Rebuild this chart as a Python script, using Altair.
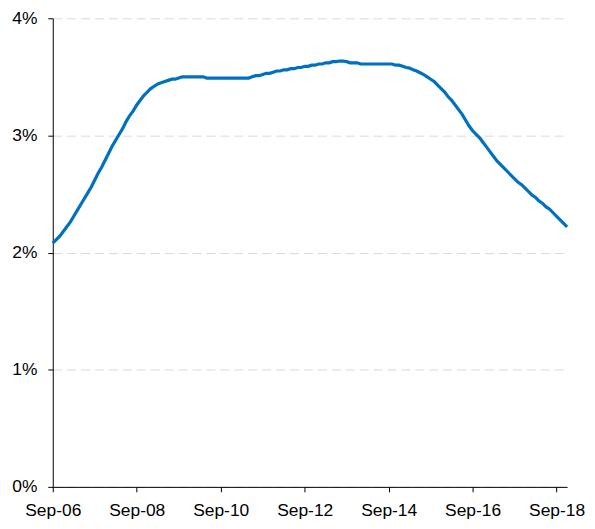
import altair as alt
import pandas as pd

values = [
    2.08, 2.11, 2.14, 2.18, 2.22, 2.26, 2.31, 2.36, 2.41, 2.46, 2.51, 2.56,
    2.62, 2.68, 2.73, 2.79, 2.85, 2.91, 2.96, 3.01, 3.06, 3.12, 3.17, 3.21,
    3.26, 3.30, 3.34, 3.37, 3.40, 3.42, 3.44, 3.45, 3.46, 3.47, 3.48, 3.48,
    3.49, 3.50, 3.50, 3.50, 3.50, 3.50, 3.50, 3.50, 3.49, 3.49, 3.49, 3.49,
    3.49, 3.49, 3.49, 3.49, 3.49, 3.49, 3.49, 3.49, 3.49, 3.50, 3.51, 3.51,
    3.52, 3.53, 3.53, 3.54, 3.55, 3.55, 3.56, 3.56, 3.57, 3.57, 3.58, 3.58,
    3.59, 3.59, 3.60, 3.60, 3.61, 3.61, 3.62, 3.62, 3.63, 3.63, 3.635, 3.635,
    3.63, 3.62, 3.62, 3.62, 3.61, 3.61, 3.61, 3.61, 3.61, 3.61, 3.61, 3.61,
    3.61, 3.61, 3.60, 3.60, 3.59, 3.58, 3.575, 3.56, 3.55, 3.535, 3.52, 3.50,
    3.48, 3.46, 3.43, 3.40, 3.37, 3.33, 3.30, 3.26, 3.22, 3.18, 3.13, 3.08,
    3.04, 3.01, 2.98, 2.94, 2.90, 2.86, 2.82, 2.78, 2.75, 2.72, 2.69, 2.66,
    2.63, 2.60, 2.58, 2.55, 2.52, 2.49, 2.47, 2.44, 2.42, 2.39, 2.37, 2.34,
    2.31, 2.28, 2.25, 2.22,
]
tick_labels = ["Sep-06", "Sep-08", "Sep-10", "Sep-12", "Sep-14", "Sep-16", "Sep-18"]
y_ticks = [0, 1, 2, 3, 4]

df = pd.DataFrame({"month": list(range(len(values))), "value": values})

label_array = "[" + ",".join("'" + t + "'" for t in tick_labels) + "]"

chart = (
    alt.Chart(df)
    .mark_line(color="#0070C0", strokeWidth=3.2)
    .encode(
        x=alt.X(
            "month:Q",
            scale=alt.Scale(domain=[0, 147], nice=False, zero=False),
            axis=alt.Axis(
                values=[0, 24, 48, 72, 96, 120, 144],
                labelExpr=label_array + "[round(datum.value/24)]",
                title=None,
                grid=False,
                domainColor="black",
                tickColor="black",
                tickSize=5,
                labelPadding=10,
                labelFontSize=17.5,
                labelColor="black",
                labelFont="Liberation Sans",
                labelFlush=False,
                labelOverlap=False,
            ),
        ),
        y=alt.Y(
            "value:Q",
            scale=alt.Scale(domain=[0, 4], nice=False),
            axis=alt.Axis(
                values=y_ticks,
                labelExpr="datum.value + '%'",
                title=None,
                grid=True,
                gridColor="#d9d9d9",
                gridDash=[9, 5],
                gridWidth=1,
                domainColor="black",
                tickColor="black",
                tickSize=5,
                labelPadding=11,
                labelFontSize=17.5,
                labelColor="black",
                labelFont="Liberation Sans",
                labelFlush=False,
            ),
        ),
    )
    .properties(
        width=517,
        height=471,
        autosize=alt.AutoSizeParams(type="none"),
        padding={"left": 45, "top": 9, "right": 20, "bottom": 40},
    )
    .configure_view(stroke=None)
)

chart.save("out.html", embed_options={"renderer": "svg", "actions": False})
